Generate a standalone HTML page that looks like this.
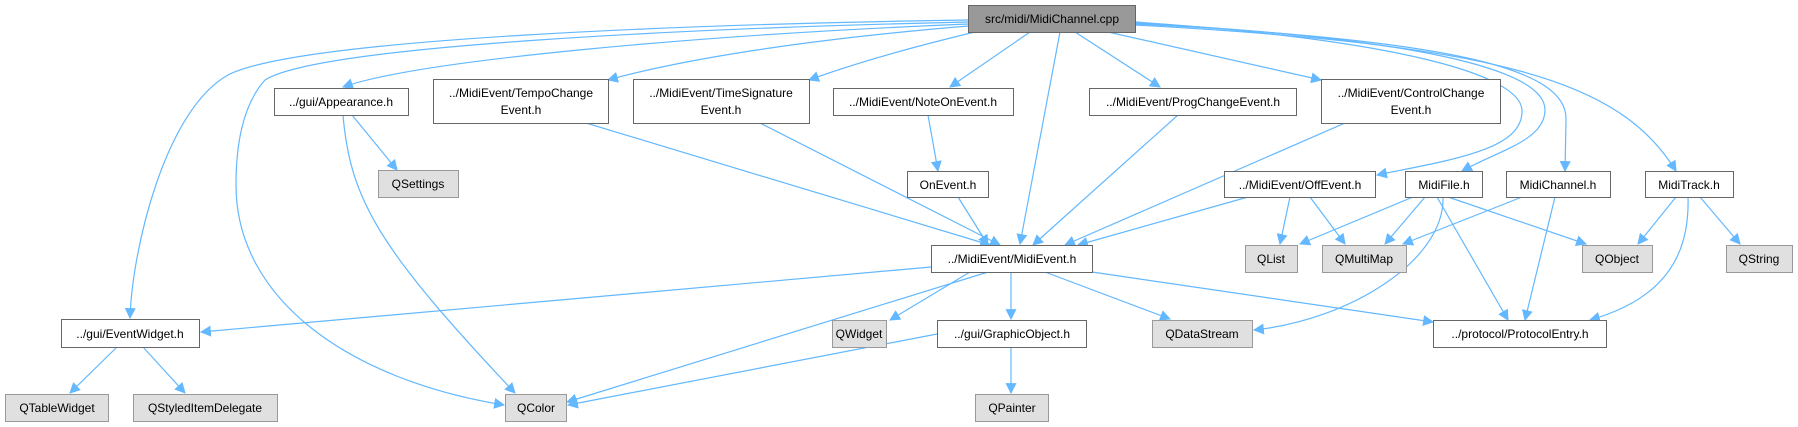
<!DOCTYPE html>
<html><head><meta charset="utf-8"><style>
html,body{margin:0;padding:0;background:#fff;}
svg{display:block;}
text{font-family:"Liberation Sans",sans-serif;font-size:12px;fill:#000;text-anchor:middle;}
.n{fill:#fff;stroke:#666;stroke-width:1;}
.g{fill:#e0e0e0;stroke:#999;stroke-width:1;}
.r{fill:#999;stroke:#666;stroke-width:1;}
path.e{fill:none;stroke:#63b8ff;stroke-width:1.2;marker-end:url(#a);}
</style></head><body>
<svg width="1798" height="427" viewBox="0 0 1798 427" xmlns="http://www.w3.org/2000/svg">
<defs><marker id="a" viewBox="0 0 10 10" refX="9" refY="5" markerWidth="11" markerHeight="11" markerUnits="userSpaceOnUse" orient="auto"><path d="M0,0 L10,5 L0,10 z" fill="#63b8ff"/></marker></defs>

<!-- edges from cpp -->
<path class="e" d="M968,20 C700,24 300,38 228,75 C165,110 132,250 130,318"/>
<path class="e" d="M968,22 C700,28 320,45 265,80 C238,110 236,160 236,185 C236,300 350,380 504,405"/>
<path class="e" d="M968,24 C700,35 420,60 343,87"/>
<path class="e" d="M968,26 C800,40 680,60 608,80"/>
<path class="e" d="M975,32 C900,50 850,65 809,80"/>
<path class="e" d="M1030,32 L950,87"/>
<path class="e" d="M1060,32 L1020,244"/>
<path class="e" d="M1075,32 L1160,87"/>
<path class="e" d="M1108,32 L1321,80"/>
<path class="e" d="M1135,22 C1400,40 1520,75 1522,110 C1524,150 1450,160 1377,175"/>
<path class="e" d="M1135,23 C1450,40 1545,75 1545,110 C1545,140 1500,150 1462,171"/>
<path class="e" d="M1135,24 C1460,40 1568,70 1566,120 L1565,171"/>
<path class="e" d="M1135,25 C1500,45 1620,80 1676,171"/>

<!-- other edges -->
<path class="e" d="M352,115 L397,170"/>
<path class="e" d="M343,115 C350,200 380,250 515,393"/>
<path class="e" d="M586,123 L990,245"/>
<path class="e" d="M760,123 L1000,245"/>
<path class="e" d="M1178,115 L1033,245"/>
<path class="e" d="M1345,123 L1065,245"/>
<path class="e" d="M928,115 L938,171"/>
<path class="e" d="M958,197 L988,245"/>
<path class="e" d="M1248,197 L1078,245"/>
<path class="e" d="M1290,197 L1280,244"/>
<path class="e" d="M1310,197 L1345,244"/>
<path class="e" d="M1413,197 L1300,244"/>
<path class="e" d="M1425,197 L1385,244"/>
<path class="e" d="M1437,197 L1508,320"/>
<path class="e" d="M1448,197 L1586,244"/>
<path class="e" d="M1443,197 C1445,260 1350,320 1254,330"/>
<path class="e" d="M1522,197 L1403,244"/>
<path class="e" d="M1555,197 L1525,320"/>
<path class="e" d="M1676,197 L1638,244"/>
<path class="e" d="M1700,197 L1740,244"/>
<path class="e" d="M1688,197 C1690,260 1660,300 1590,320"/>
<path class="e" d="M931,267 L201,332"/>
<path class="e" d="M970,272 L890,320"/>
<path class="e" d="M988,272 L567,402"/>
<path class="e" d="M1011,272 L1011,319"/>
<path class="e" d="M1045,272 L1170,319"/>
<path class="e" d="M1092,272 L1433,322"/>
<path class="e" d="M937,334 L568,405"/>
<path class="e" d="M1011,347 L1011,393"/>
<path class="e" d="M117,347 L70,393"/>
<path class="e" d="M143,347 L185,393"/>

<!-- nodes -->
<rect class="r" x="968.5" y="5.5" width="167" height="27"/><text x="1052" y="23">src/midi/MidiChannel.cpp</text>
<rect class="n" x="274.5" y="88.5" width="134" height="27"/><text x="341" y="106">../gui/Appearance.h</text>
<rect class="n" x="433.5" y="79.5" width="175" height="44"/><text x="521" y="97">../MidiEvent/TempoChange</text><text x="521" y="114">Event.h</text>
<rect class="n" x="633.5" y="79.5" width="176" height="44"/><text x="721" y="97">../MidiEvent/TimeSignature</text><text x="721" y="114">Event.h</text>
<rect class="n" x="833.5" y="88.5" width="180" height="27"/><text x="923" y="106">../MidiEvent/NoteOnEvent.h</text>
<rect class="n" x="1089.5" y="88.5" width="207" height="27"/><text x="1193" y="106">../MidiEvent/ProgChangeEvent.h</text>
<rect class="n" x="1321.5" y="79.5" width="179" height="44"/><text x="1411" y="97">../MidiEvent/ControlChange</text><text x="1411" y="114">Event.h</text>
<rect class="g" x="378.5" y="170.5" width="80" height="27"/><text x="418" y="188">QSettings</text>
<rect class="n" x="907.5" y="171.5" width="81" height="26"/><text x="948" y="189">OnEvent.h</text>
<rect class="n" x="1224.5" y="171.5" width="151" height="26"/><text x="1300" y="189">../MidiEvent/OffEvent.h</text>
<rect class="n" x="1405.5" y="171.5" width="77" height="26"/><text x="1444" y="189">MidiFile.h</text>
<rect class="n" x="1506.5" y="171.5" width="104" height="26"/><text x="1558" y="189">MidiChannel.h</text>
<rect class="n" x="1645.5" y="171.5" width="88" height="26"/><text x="1689" y="189">MidiTrack.h</text>
<rect class="n" x="931.5" y="245.5" width="161" height="27"/><text x="1012" y="263">../MidiEvent/MidiEvent.h</text>
<rect class="g" x="1245.5" y="245.5" width="52" height="27"/><text x="1271" y="263">QList</text>
<rect class="g" x="1322.5" y="245.5" width="84" height="27"/><text x="1364" y="263">QMultiMap</text>
<rect class="g" x="1582.5" y="245.5" width="70" height="27"/><text x="1617" y="263">QObject</text>
<rect class="g" x="1726.5" y="245.5" width="66" height="27"/><text x="1759" y="263">QString</text>
<rect class="n" x="61.5" y="319.5" width="138" height="28"/><text x="130" y="338">../gui/EventWidget.h</text>
<rect class="g" x="832.5" y="320.5" width="54" height="27"/><text x="859" y="338">QWidget</text>
<rect class="n" x="937.5" y="320.5" width="149" height="27"/><text x="1012" y="338">../gui/GraphicObject.h</text>
<rect class="g" x="1152.5" y="320.5" width="100" height="27"/><text x="1202" y="338">QDataStream</text>
<rect class="n" x="1433.5" y="320.5" width="173" height="27"/><text x="1520" y="338">../protocol/ProtocolEntry.h</text>
<rect class="g" x="5.5" y="394.5" width="103" height="27"/><text x="57" y="412">QTableWidget</text>
<rect class="g" x="133.5" y="394.5" width="144" height="27"/><text x="205" y="412">QStyledItemDelegate</text>
<rect class="g" x="505.5" y="394.5" width="61" height="27"/><text x="536" y="412">QColor</text>
<rect class="g" x="975.5" y="394.5" width="73" height="27"/><text x="1012" y="412">QPainter</text>
</svg>
</body></html>
